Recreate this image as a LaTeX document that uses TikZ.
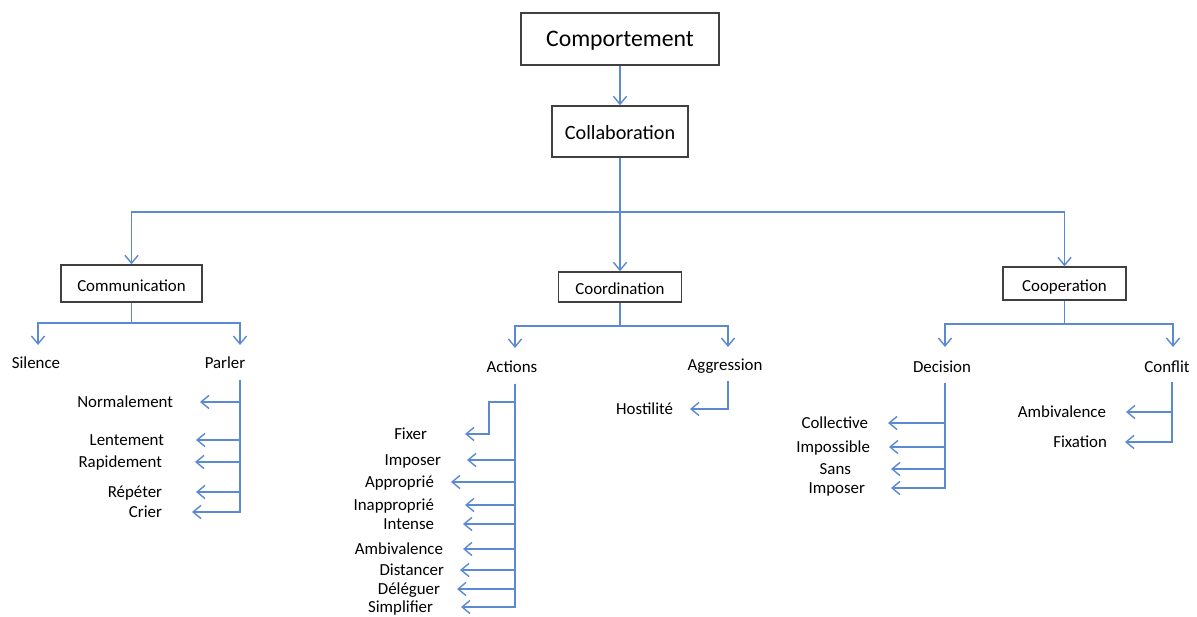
\documentclass[tikz,border=0pt]{standalone}
\usepackage{fontspec}
\setmainfont{Carlito}
\usetikzlibrary{arrows.meta}
\definecolor{linkblue}{HTML}{5B8AD2}

\begin{document}
\begin{tikzpicture}[x=0.02cm,y=-0.02cm,
    box/.style={draw=black!75,line width=0.8pt,inner sep=0pt,text height=0.9em,text depth=0em,font=\fontsize{9.6}{11}\selectfont},
    leaf/.style={inner sep=0pt,text height=0.7em,text depth=0.1em,font=\fontsize{9.6}{11}\selectfont},
    link/.style={draw=linkblue,line width=0.8pt},
    arr/.style={link,-{Straight Barb[length=4.5pt,width=7.5pt]}}]

    \useasboundingbox (0,0) rectangle (1197,617);

    % boxes
    \node[box,minimum width=3.96cm,minimum height=1.04cm,font=\fontsize{13.5}{16}\selectfont] (comportement) at (620,39) {Comportement};
    \node[box,minimum width=2.72cm,minimum height=1.02cm,font=\fontsize{11.5}{14}\selectfont] (collaboration) at (620,131.5) {Collaboration};
    \node[box,minimum width=2.82cm,minimum height=0.74cm] (communication) at (131.5,283.5) {Communication};
    \node[box,minimum width=2.46cm,minimum height=0.6cm] (coordination) at (620,287) {Coordination};
    \node[box,minimum width=2.46cm,minimum height=0.66cm] (cooperation) at (1064.5,283.5) {Cooperation};

    \draw[arr] (comportement) -- (collaboration);
    \coordinate (mainBar) at (620,212);
    \draw[link] (collaboration) -- (mainBar);
    \draw[arr] (mainBar) -| (communication);
    \draw[arr] (mainBar) -- (coordination);
    \draw[arr] (mainBar) -| (cooperation);

    % second level
    \node[leaf] (silence) at (36,363) {Silence};
    \node[leaf] (parler) at (225,363) {Parler};
    \node[leaf] (actions) at (512,367) {Actions};
    \node[leaf] (aggression) at (725,365) {Aggression};
    \node[leaf] (decision) at (942,367) {Decision};
    \node[leaf] (conflit) at (1167,367) {Conflit};

    \coordinate (commBar) at (131.5,323);
    \coordinate (silenceIn) at (38,345);
    \coordinate (parlerIn) at (240,345);
    \draw[link] (communication) -- (commBar);
    \draw[arr] (commBar) -| (silenceIn);
    \draw[arr] (commBar) -| (parlerIn);

    \coordinate (coordBar) at (620,326);
    \coordinate (actionsIn) at (515,348);
    \coordinate (aggressionIn) at (728,347);
    \draw[link] (coordination) -- (coordBar);
    \draw[arr] (coordBar) -| (actionsIn);
    \draw[arr] (coordBar) -| (aggressionIn);

    \coordinate (coopBar) at (1064.5,324);
    \coordinate (decisionIn) at (945,347);
    \coordinate (conflitIn) at (1173,347);
    \draw[link] (cooperation) -- (coopBar);
    \draw[arr] (coopBar) -| (decisionIn);
    \draw[arr] (coopBar) -| (conflitIn);

    % Parler
    \coordinate (parlerStem) at (240,380);
    \foreach \n/\t/\y/\x/\g in {normalement/Normalement/402/200/27, lentement/Lentement/440/196/32,
        rapidement/Rapidement/462/195/33, repeter/Répéter/492/196/34, crier/Crier/512/192/30}{
        \node[leaf,anchor=east,outer xsep=\g*0.02cm] (\n) at (\x,\y) {\t};
        \draw[arr] (parlerStem) |- (\n.east);
    }

    % Actions
    \coordinate (actionsStem) at (515,384);
    \coordinate (fixerBend) at (489,402);
    \node[leaf,anchor=east,outer xsep=38*0.02cm] (fixer) at (465,434) {Fixer};
    \draw[arr] (actionsStem) |- (fixerBend) |- (fixer.east);
    \foreach \n/\t/\y/\x/\g in {imposer/Imposer/460/467/26, approprie/Approprié/482/451/17,
        inapproprie/Inapproprié/505/465/31, intense/Intense/524/463/29,
        ambivalence/Ambivalence/549/463/20, distancer/Distancer/570/460/16,
        deleguer/Déléguer/589/457/17, simplifier/Simplifier/607/461/28}{
        \node[leaf,anchor=east,outer xsep=\g*0.02cm] (\n) at (\x,\y) {\t};
        \draw[arr] (actionsStem) |- (\n.east);
    }

    % Aggression
    \coordinate (aggressionStem) at (728,381);
    \node[leaf,anchor=east,outer xsep=17*0.02cm] (hostilite) at (690,409) {Hostilité};
    \draw[arr] (aggressionStem) |- (hostilite.east);

    % Decision
    \coordinate (decisionStem) at (945,383);
    \foreach \n/\t/\y/\x/\g in {collective/Collective/423/888/20, impossible/Impossible/447/889/19,
        sans/Sans/469/891/40, imposerB/Imposer/488/891/26}{
        \node[leaf,anchor=east,outer xsep=\g*0.02cm] (\n) at (\x,\y) {\t};
        \draw[arr] (decisionStem) |- (\n.east);
    }

    % Conflit
    \coordinate (conflitStem) at (1172,382);
    \foreach \n/\t/\y/\x/\g in {ambivalenceB/Ambivalence/412/1126/20, fixation/Fixation/442/1125/18}{
        \node[leaf,anchor=east,outer xsep=\g*0.02cm] (\n) at (\x,\y) {\t};
        \draw[arr] (conflitStem) |- (\n.east);
    }

\end{tikzpicture}
\end{document}
